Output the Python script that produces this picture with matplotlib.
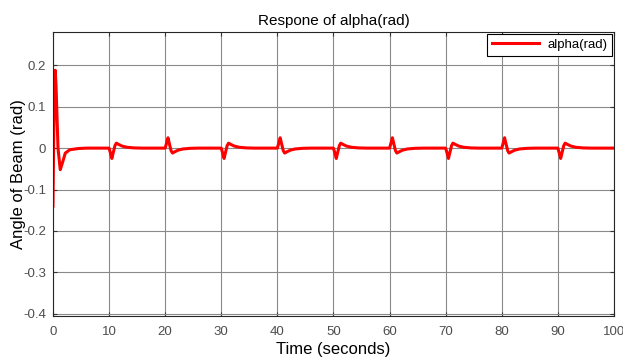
import numpy as np
import matplotlib.pyplot as plt

plt.rcParams['font.family'] = ['Liberation Sans', 'DejaVu Sans']

# beam angle response, sampled at the turning points of the curve
time = [0, 0.15, 0.4, 0.55, 0.9, 1.3, 1.7, 2.2, 3.0, 4.5, 6.0,
        10.0, 10.25, 10.5, 10.8, 11.05, 11.3, 11.7, 12.3, 13.2, 14.5, 16.0,
        20.0, 20.25, 20.5, 20.8, 21.05, 21.3, 21.7, 22.3, 23.2, 24.5, 26.0,
        30.0, 30.25, 30.5, 30.8, 31.05, 31.3, 31.7, 32.3, 33.2, 34.5, 36.0,
        40.0, 40.25, 40.5, 40.8, 41.05, 41.3, 41.7, 42.3, 43.2, 44.5, 46.0,
        50.0, 50.25, 50.5, 50.8, 51.05, 51.3, 51.7, 52.3, 53.2, 54.5, 56.0,
        60.0, 60.25, 60.5, 60.8, 61.05, 61.3, 61.7, 62.3, 63.2, 64.5, 66.0,
        70.0, 70.25, 70.5, 70.8, 71.05, 71.3, 71.7, 72.3, 73.2, 74.5, 76.0,
        80.0, 80.25, 80.5, 80.8, 81.05, 81.3, 81.7, 82.3, 83.2, 84.5, 86.0,
        90.0, 90.25, 90.5, 90.8, 91.05, 91.3, 91.7, 92.3, 93.2, 94.5, 96.0,
        100.0]
alpha = [-0.14, 0.05, 0.188, 0.15, 0.0, -0.052, -0.035, -0.012, -0.004, -0.001, 0.0,
         0.0, -0.012, -0.025, -0.008, 0.006, 0.012, 0.009, 0.005, 0.002, 0.0005, 0.0,
         0.0, 0.012, 0.025, 0.008, -0.006, -0.012, -0.009, -0.005, -0.002, -0.0005, 0.0,
         0.0, -0.012, -0.025, -0.008, 0.006, 0.012, 0.009, 0.005, 0.002, 0.0005, 0.0,
         0.0, 0.012, 0.025, 0.008, -0.006, -0.012, -0.009, -0.005, -0.002, -0.0005, 0.0,
         0.0, -0.012, -0.025, -0.008, 0.006, 0.012, 0.009, 0.005, 0.002, 0.0005, 0.0,
         0.0, 0.012, 0.025, 0.008, -0.006, -0.012, -0.009, -0.005, -0.002, -0.0005, 0.0,
         0.0, -0.012, -0.025, -0.008, 0.006, 0.012, 0.009, 0.005, 0.002, 0.0005, 0.0,
         0.0, 0.012, 0.025, 0.008, -0.006, -0.012, -0.009, -0.005, -0.002, -0.0005, 0.0,
         0.0, -0.012, -0.025, -0.008, 0.006, 0.012, 0.009, 0.005, 0.002, 0.0005, 0.0,
         0.0]
x_ticks = [0, 10, 20, 30, 40, 50, 60, 70, 80, 90, 100]
y_ticks = [-0.4, -0.3, -0.2, -0.1, 0, 0.1, 0.2]
y_labels = ['-0.4', '-0.3', '-0.2', '-0.1', '0', '0.1', '0.2']

fig = plt.figure(figsize=(6.23, 3.61), dpi=100)
ax = fig.add_axes([0.085, 0.125, 0.9005, 0.786])

ax.plot(time, alpha, color='#ff0000', linewidth=2.2, label='alpha(rad)')

ax.set_xlim(0, 100)
ax.set_ylim(-0.405, 0.28)
ax.set_xticks(x_ticks)
ax.set_yticks(y_ticks)
ax.set_yticklabels(y_labels)
ax.tick_params(direction='in', top=True, right=True, length=3,
               labelsize=9.5, labelcolor='#4d4d4d', color='#333333')
ax.tick_params(axis='x', pad=7)
ax.tick_params(axis='y', pad=5)
ax.grid(True, color='#8a8a8a', linewidth=0.8)
for s in ax.spines.values():
    s.set_color('#262626')
    s.set_linewidth(0.8)

ax.set_title('Respone of alpha(rad)', fontsize=11, pad=5)
ax.set_xlabel('Time (seconds)', fontsize=12, labelpad=3)
ax.set_ylabel('Angle of Beam (rad)', fontsize=12, labelpad=-2)

leg = ax.legend(loc='upper right', fontsize=9.5, fancybox=False, framealpha=1,
                borderaxespad=0.15, handlelength=3.6, borderpad=0.35,
                handletextpad=0.6)
leg.get_frame().set_edgecolor('#000000')
leg.get_frame().set_linewidth(0.8)

fig.savefig('out.png', dpi=100)
